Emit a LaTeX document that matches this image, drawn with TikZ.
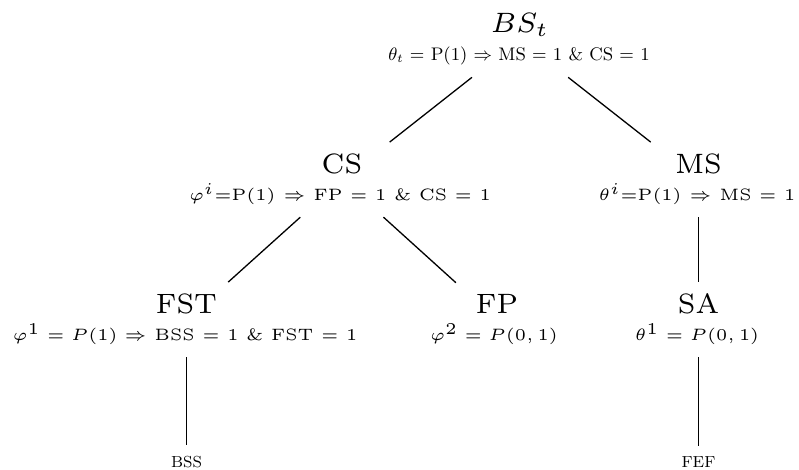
\documentclass[tikz,border=0pt]{standalone}
\usetikzlibrary{fit}
\newcommand\titlesz{\fontsize{7}{8.5}\selectfont}
\newcommand\subsz{\fontsize{5}{6}\selectfont}
\newcommand\topsz{\fontsize{9.1}{11}\selectfont}
\newcommand\leafsz{\fontsize{8}{10}\selectfont}
\tikzset{
  txt/.style={inner sep=0pt, anchor=base},
  ttl/.style={txt, font=\titlesz, scale=2},
  subt/.style={txt, font=\subsz, scale=1.65},
  topsub/.style={txt, font=\topsz},
  grp/.style={inner xsep=40pt, inner ysep=5.5pt},
  leaf/.style={inner xsep=2pt, inner ysep=5.5pt, anchor=base, font=\leafsz},
  edge/.style={draw, line width=0.65pt}
}
\begin{document}
\begin{tikzpicture}[x=0.5pt, y=-0.5pt]
\useasboundingbox (0,0) rectangle (799,470);
% root
\node[ttl] (bstT) at (520,33) {$BS_t$};
\node[topsub] (bstS) at (519,61) {$\theta_t$ = P(1) $\Rightarrow$ MS = 1 \& CS = 1};
\node[grp, fit=(bstT)(bstT|-bstS.south)] (bst) {};
% level 1
\node[ttl] (csT) at (342,174) {CS};
\node[subt] (csS) at (340,201) {$\varphi^i$=P(1) $\Rightarrow$ FP = 1 \& CS = 1};
\node[grp, fit=(csT)(csT|-csS.south)] (cs) {};
\node[ttl] (msT) at (698.5,174) {MS};
\node[subt] (msS) at (697,201) {$\theta^i$=P(1) $\Rightarrow$ MS = 1};
\node[grp, fit=(msT)(msT|-msS.south)] (ms) {};
% level 2
\node[ttl] (fstT) at (186.5,314) {FST};
\node[subt] (fstS) at (185,341) {$\varphi^1 = P(1) \Rightarrow$ BSS = 1 \& FST = 1};
\node[grp, fit=(fstT)(fstT|-fstS.south)] (fst) {};
\node[ttl] (fpT) at (497,314) {FP};
\node[subt] (fpS) at (494,341) {$\varphi^2 = P(0,1)$};
\node[grp, fit=(fpT)(fpT|-fpS.south)] (fp) {};
\node[ttl] (saT) at (698.5,314) {SA};
\node[subt] (saS) at (697,341) {$\theta^1 = P(0,1)$};
\node[grp, fit=(saT)(saT|-saS.south)] (sa) {};
% leaves
\node[leaf] (bss) at (186.5,468) {BSS};
\node[leaf] (fef) at (698.5,468) {FEF};
% edges
\draw[edge] (bst) -- (cs);
\draw[edge] (bst) -- (ms);
\draw[edge] (cs) -- (fst);
\draw[edge] (cs) -- (fp);
\draw[edge] (ms) -- (sa);
\draw[edge] (fst) -- (bss);
\draw[edge] (sa) -- (fef);
\end{tikzpicture}
\end{document}
